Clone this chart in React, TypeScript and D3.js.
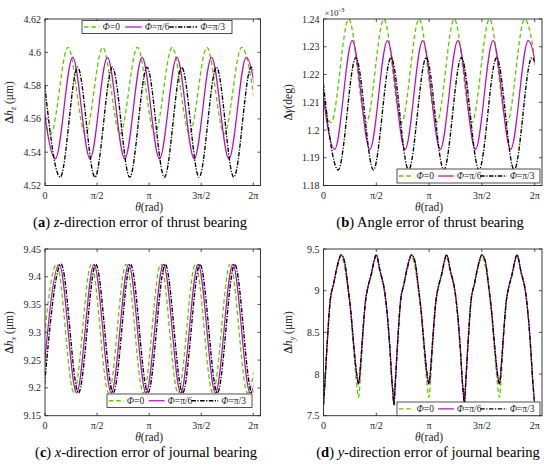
import React from "react";
import * as d3 from "d3";

// ---------- shared ----------
const seriesNames = ["Φ=0", "Φ=π/6", "Φ=π/3"];
const xTickLabels = ["0", "π/2", "π", "3π/2", "2π"];
const xTickValues = [0, Math.PI / 2, Math.PI, (3 * Math.PI) / 2, 2 * Math.PI];

// ---------- (a) z-direction error of thrust bearing ----------
const aTicks = [4.52, 4.54, 4.56, 4.58, 4.6, 4.62];
const aTheta0 = [-0.353, 0.17, 0.694, 1.217, 1.741, 2.264, 2.788, 3.312, 3.836, 4.359, 4.883, 5.406, 5.93, 6.453];
const aPhi0 = [4.603, 4.551, 4.603, 4.551, 4.603, 4.551, 4.603, 4.551, 4.603, 4.551, 4.603, 4.551, 4.603, 4.551];
const aTheta6 = [-0.212, 0.311, 0.835, 1.358, 1.882, 2.405, 2.929, 3.453, 3.977, 4.5, 5.024, 5.547, 6.071, 6.594];
const aPhi6 = [4.597, 4.536, 4.597, 4.536, 4.597, 4.536, 4.597, 4.536, 4.597, 4.536, 4.597, 4.536, 4.597, 4.536];
const aTheta3 = [-0.063, 0.46, 0.984, 1.507, 2.031, 2.554, 3.078, 3.601, 4.125, 4.648, 5.172, 5.695, 6.219, 6.742];
const aPhi3 = [4.591, 4.525, 4.591, 4.525, 4.591, 4.525, 4.591, 4.525, 4.591, 4.525, 4.591, 4.525, 4.591, 4.525];

// ---------- (b) angle error of thrust bearing (x1e-3 deg) ----------
const bTicks = [1.18, 1.19, 1.2, 1.21, 1.22, 1.23, 1.24];
const bTheta0 = [-0.297, 0.226, 0.75, 1.273, 1.797, 2.32, 2.844, 3.367, 3.891, 4.414, 4.938, 5.461, 5.985, 6.508];
const bPhi0 = [1.24, 1.2027, 1.24, 1.2027, 1.24, 1.2027, 1.24, 1.2027, 1.24, 1.2027, 1.24, 1.2027, 1.24, 1.2027];
const bTheta6 = [-0.191, 0.332, 0.856, 1.379, 1.903, 2.426, 2.95, 3.473, 3.997, 4.52, 5.044, 5.567, 6.091, 6.614];
const bPhi6 = [1.2322, 1.193, 1.2322, 1.193, 1.2322, 1.193, 1.2322, 1.193, 1.2322, 1.193, 1.2322, 1.193, 1.2322, 1.193];
const bTheta3 = [-0.085, 0.438, 0.962, 1.485, 2.009, 2.532, 3.056, 3.579, 4.103, 4.626, 5.15, 5.673, 6.197, 6.72];
const bPhi3 = [1.2261, 1.1856, 1.2261, 1.1856, 1.2261, 1.1856, 1.2261, 1.1856, 1.2261, 1.1856, 1.2261, 1.1856, 1.2261, 1.1856];

// ---------- (c) x-direction error of journal bearing ----------
const cTicks = [9.15, 9.2, 9.25, 9.3, 9.35, 9.4, 9.45];
const cTheta0 = [-0.174, 0.35, 0.874, 1.397, 1.921, 2.444, 2.968, 3.491, 4.015, 4.538, 5.062, 5.585, 6.109, 6.633];
const cPhi0 = [9.191, 9.4225, 9.191, 9.4225, 9.191, 9.4225, 9.191, 9.4225, 9.191, 9.4225, 9.191, 9.4225, 9.191, 9.4225];
const cTheta6 = [-0.094, 0.43, 0.954, 1.477, 2.001, 2.524, 3.048, 3.571, 4.095, 4.618, 5.142, 5.665, 6.189, 6.713];
const cPhi6 = [9.191, 9.4225, 9.191, 9.4225, 9.191, 9.4225, 9.191, 9.4225, 9.191, 9.4225, 9.191, 9.4225, 9.191, 9.4225];
const cTheta3 = [-0.037, 0.487, 1.011, 1.534, 2.058, 2.581, 3.105, 3.628, 4.152, 4.675, 5.199, 5.722, 6.246, 6.77];
const cPhi3 = [9.191, 9.4225, 9.191, 9.4225, 9.191, 9.4225, 9.191, 9.4225, 9.191, 9.4225, 9.191, 9.4225, 9.191, 9.4225];

// ---------- (d) y-direction error of journal bearing ----------
const dTicks = [7.5, 8, 8.5, 9, 9.5];
const dTheta = [
  0, 0.035, 0.1, 0.2, 0.3, 0.4, 0.524, 0.62, 0.73, 0.81, 0.91, 0.98, 1.047, 1.1, 1.18, 1.25, 1.32, 1.41, 1.571, 1.68, 1.83, 1.93, 1.98, 2.03, 2.07,
  2.094, 2.129, 2.194, 2.294, 2.394, 2.494, 2.618, 2.714, 2.824, 2.904, 3.004, 3.074, 3.141, 3.194, 3.274, 3.344, 3.414, 3.504, 3.665, 3.774, 3.924, 4.024, 4.074, 4.124, 4.164,
  4.189, 4.224, 4.289, 4.389, 4.489, 4.589, 4.713, 4.809, 4.919, 4.999, 5.099, 5.169, 5.236, 5.289, 5.369, 5.439, 5.509, 5.599, 5.76, 5.869, 6.019, 6.119, 6.169, 6.219, 6.259,
  6.283,
];
const dPhi0 = [
  7.63, 7.85, 8.32, 8.9, 9.08, 9.26, 9.41, 9.3, 9.0, 8.72, 8.22, 7.9, 7.72, 7.98, 8.5, 8.86, 9.03, 9.16, 9.41, 9.22, 8.94, 8.54, 8.26, 7.93, 7.74,
  7.63, 7.85, 8.32, 8.9, 9.08, 9.26, 9.41, 9.3, 9.0, 8.72, 8.22, 7.9, 7.72, 7.98, 8.5, 8.86, 9.03, 9.16, 9.41, 9.22, 8.94, 8.54, 8.26, 7.93, 7.74,
  7.63, 7.85, 8.32, 8.9, 9.08, 9.26, 9.41, 9.3, 9.0, 8.72, 8.22, 7.9, 7.72, 7.98, 8.5, 8.86, 9.03, 9.16, 9.41, 9.22, 8.94, 8.54, 8.26, 7.93, 7.74,
  7.63,
];
const dPhi6 = [
  7.63, 7.85, 8.3, 8.88, 9.08, 9.28, 9.43, 9.36, 9.04, 8.76, 8.3, 8.02, 7.88, 8.1, 8.55, 8.88, 9.04, 9.18, 9.43, 9.24, 8.96, 8.56, 8.28, 7.95, 7.75,
  7.63, 7.85, 8.3, 8.88, 9.08, 9.28, 9.43, 9.36, 9.04, 8.76, 8.3, 8.02, 7.88, 8.1, 8.55, 8.88, 9.04, 9.18, 9.43, 9.24, 8.96, 8.56, 8.28, 7.95, 7.75,
  7.63, 7.85, 8.3, 8.88, 9.08, 9.28, 9.43, 9.36, 9.04, 8.76, 8.3, 8.02, 7.88, 8.1, 8.55, 8.88, 9.04, 9.18, 9.43, 9.24, 8.96, 8.56, 8.28, 7.95, 7.75,
  7.63,
];
const dPhi3 = [
  7.63, 7.85, 8.3, 8.88, 9.08, 9.28, 9.43, 9.36, 9.04, 8.76, 8.3, 8.02, 7.88, 8.1, 8.55, 8.88, 9.04, 9.18, 9.43, 9.24, 8.96, 8.56, 8.28, 7.95, 7.75,
  7.63, 7.85, 8.3, 8.88, 9.08, 9.28, 9.43, 9.36, 9.04, 8.76, 8.3, 8.02, 7.88, 8.1, 8.55, 8.88, 9.04, 9.18, 9.43, 9.24, 8.96, 8.56, 8.28, 7.95, 7.75,
  7.63, 7.85, 8.3, 8.88, 9.08, 9.28, 9.43, 9.36, 9.04, 8.76, 8.3, 8.02, 7.88, 8.1, 8.55, 8.88, 9.04, 9.18, 9.43, 9.24, 8.96, 8.56, 8.28, 7.95, 7.75,
  7.63,
];

// ---------- styling ----------
const FONT = "'Liberation Serif', 'Times New Roman', serif";
const AXIS_COLOR = "#262626";
const lineStyles = [
  { color: "#62c800", width: 1.3, dash: "4.5 2.8" },
  { color: "#b414b4", width: 1.25, dash: undefined as string | undefined },
  { color: "#000000", width: 1.35, dash: "4.5 1.5 1.2 1.5" },
];
const X_MAX = 6.5;

function fmtTick(v: number) {
  return String(parseFloat(v.toFixed(3)));
}

type Frame = { x0: number; x1: number; y0: number; y1: number };
type Legend = { x: number; y: number; w: number; h: number };

function Panel(props: {
  id: string;
  frame: Frame;
  yDomain: [number, number];
  yTicks: number[];
  thetas: number[][];
  values: number[][];
  legend: Legend;
  yLabel: React.ReactNode;
  caption: React.ReactNode;
  captionX: number;
  exponent?: boolean;
}) {
  const { x0, x1, y0, y1 } = props.frame;
  const x = d3.scaleLinear().domain([0, X_MAX]).range([x0, x1]);
  const y = d3.scaleLinear().domain(props.yDomain).range([y1, y0]);
  const line = d3
    .line<[number, number]>()
    .x((d) => x(d[0]))
    .y((d) => y(d[1]))
    .curve(d3.curveMonotoneX);
  const clipId = "clip-" + props.id;
  const lg = props.legend;
  const s = lg.w / 146;
  const items = [
    { a: 2, b: 17, t: 20 },
    { a: 42, b: 58, t: 61 },
    { a: 85, b: 112, t: 115 },
  ];
  return (
    <g>
      <defs>
        <clipPath id={clipId}>
          <rect x={x(0)} y={y0} width={x(2 * Math.PI) - x(0)} height={y1 - y0} />
        </clipPath>
      </defs>
      <rect x={x0} y={y0} width={x1 - x0} height={y1 - y0} fill="#fff" />
      <g clipPath={`url(#${clipId})`}>
        {props.thetas.map((th, i) => {
          const pts = th.map((t, k) => [t, props.values[i][k]] as [number, number]);
          const st = lineStyles[i];
          return (
            <path
              key={i}
              d={line(pts) || ""}
              fill="none"
              stroke={st.color}
              strokeWidth={st.width}
              strokeDasharray={st.dash}
              strokeLinejoin="round"
            />
          );
        })}
      </g>
      {/* frame */}
      <rect x={x0} y={y0} width={x1 - x0} height={y1 - y0} fill="none" stroke={AXIS_COLOR} strokeWidth={0.9} />
      {/* x ticks */}
      {xTickValues.map((v, i) => (
        <g key={"xt" + i}>
          <line x1={x(v)} x2={x(v)} y1={y1} y2={y1 - 3} stroke={AXIS_COLOR} strokeWidth={0.8} />
          <line x1={x(v)} x2={x(v)} y1={y0} y2={y0 + 3} stroke={AXIS_COLOR} strokeWidth={0.8} />
          <text x={x(v)} y={y1 + 13} textAnchor="middle" fontSize={10} fontFamily={FONT} fill={AXIS_COLOR}>
            {xTickLabels[i]}
          </text>
        </g>
      ))}
      {/* y ticks */}
      {props.yTicks.map((v, i) => (
        <g key={"yt" + i}>
          <line x1={x0} x2={x0 + 3} y1={y(v)} y2={y(v)} stroke={AXIS_COLOR} strokeWidth={0.8} />
          <line x1={x1} x2={x1 - 3} y1={y(v)} y2={y(v)} stroke={AXIS_COLOR} strokeWidth={0.8} />
          <text x={x0 - 4} y={y(v)} dy="0.35em" textAnchor="end" fontSize={10} fontFamily={FONT} fill={AXIS_COLOR}>
            {fmtTick(v)}
          </text>
        </g>
      ))}
      {props.exponent && (
        <text x={x0 + 1} y={y0 - 3} fontSize={9} fontFamily={FONT} fill={AXIS_COLOR}>
          ×10
          <tspan fontSize={7} dy={-4}>
            -3
          </tspan>
        </text>
      )}
      {/* x label */}
      <text x={x(Math.PI)} y={y1 + 25.5} textAnchor="middle" fontSize={11.5} fontFamily={FONT} fill={AXIS_COLOR}>
        <tspan fontStyle="italic">θ</tspan>(rad)
      </text>
      {/* y label */}
      <text
        transform={`translate(${x0 - 32},${(y0 + y1) / 2}) rotate(-90)`}
        textAnchor="middle"
        fontSize={11.5}
        fontFamily={FONT}
        fill={AXIS_COLOR}
      >
        {props.yLabel}
      </text>
      {/* legend */}
      <rect x={lg.x} y={lg.y} width={lg.w} height={lg.h} fill="#fff" stroke={AXIS_COLOR} strokeWidth={0.8} />
      {items.map((it, i) => {
        const st = lineStyles[i];
        const cy = lg.y + lg.h / 2;
        return (
          <g key={"lg" + i}>
            <line
              x1={lg.x + it.a * s}
              x2={lg.x + it.b * s}
              y1={cy}
              y2={cy}
              stroke={st.color}
              strokeWidth={st.width}
              strokeDasharray={st.dash}
            />
            <text x={lg.x + it.t * s} y={cy} dy="0.35em" fontSize={9.5} fontFamily={FONT} fill={AXIS_COLOR}>
              <tspan fontStyle="italic">Φ</tspan>
              {seriesNames[i].slice(1)}
            </text>
          </g>
        );
      })}
      {/* caption */}
      <text x={props.captionX} y={y1 + 41.5} textAnchor="middle" fontSize={14.5} fontFamily={FONT} fill="#000">
        {props.caption}
      </text>
    </g>
  );
}

const hLabel = (sub: string) => (
  <>
    <tspan fontWeight="bold">Δ</tspan>
    <tspan fontStyle="italic">h</tspan>
    <tspan fontStyle="italic" fontSize={8.5} dy={3}>
      {sub}
    </tspan>
    <tspan dy={-3}> (μm)</tspan>
  </>
);

export default function App() {
  const top: [number, number] = [19, 185.5];
  const bot: [number, number] = [249, 415.7];
  return (
    <svg
      width={550}
      height={468}
      style={{ position: "absolute", left: 0, top: 0, background: "#fff" }}
      xmlns="http://www.w3.org/2000/svg"
    >
      <rect x={0} y={0} width={550} height={468} fill="#fff" />
      <Panel
        id="a"
        frame={{ x0: 45, x1: 260.5, y0: top[0], y1: top[1] }}
        yDomain={[4.52, 4.62]}
        yTicks={aTicks}
        thetas={[aTheta0, aTheta6, aTheta3]}
        values={[aPhi0, aPhi6, aPhi3]}
        legend={{ x: 82, y: 20.5, w: 150, h: 13 }}
        yLabel={hLabel("z")}
        captionX={140}
        caption={
          <>
            (<tspan fontWeight="bold">a</tspan>) <tspan fontStyle="italic">z</tspan>-direction error of thrust bearing
          </>
        }
      />
      <Panel
        id="b"
        frame={{ x0: 323.5, x1: 542, y0: top[0], y1: top[1] }}
        yDomain={[1.18, 1.24]}
        yTicks={bTicks}
        thetas={[bTheta0, bTheta6, bTheta3]}
        values={[bPhi0, bPhi6, bPhi3]}
        legend={{ x: 397, y: 169, w: 143, h: 14 }}
        yLabel={
          <>
            <tspan fontWeight="bold">Δ</tspan>
            <tspan fontStyle="italic">γ</tspan>(deg)
          </>
        }
        captionX={430}
        exponent
        caption={
          <>
            (<tspan fontWeight="bold">b</tspan>) Angle error of thrust bearing
          </>
        }
      />
      <Panel
        id="c"
        frame={{ x0: 45, x1: 260.5, y0: bot[0], y1: bot[1] }}
        yDomain={[9.15, 9.45]}
        yTicks={cTicks}
        thetas={[cTheta0, cTheta6, cTheta3]}
        values={[cPhi0, cPhi6, cPhi3]}
        legend={{ x: 107, y: 394, w: 145, h: 13.5 }}
        yLabel={hLabel("x")}
        captionX={146}
        caption={
          <>
            (<tspan fontWeight="bold">c</tspan>) <tspan fontStyle="italic">x</tspan>-direction error of journal bearing
          </>
        }
      />
      <Panel
        id="d"
        frame={{ x0: 323.5, x1: 542, y0: bot[0], y1: bot[1] }}
        yDomain={[7.5, 9.5]}
        yTicks={dTicks}
        thetas={[dTheta, dTheta, dTheta]}
        values={[dPhi0, dPhi6, dPhi3]}
        legend={{ x: 397, y: 402, w: 143, h: 13.7 }}
        yLabel={hLabel("y")}
        captionX={428}
        caption={
          <>
            (<tspan fontWeight="bold">d</tspan>) <tspan fontStyle="italic">y</tspan>-direction error of journal bearing
          </>
        }
      />
    </svg>
  );
}
